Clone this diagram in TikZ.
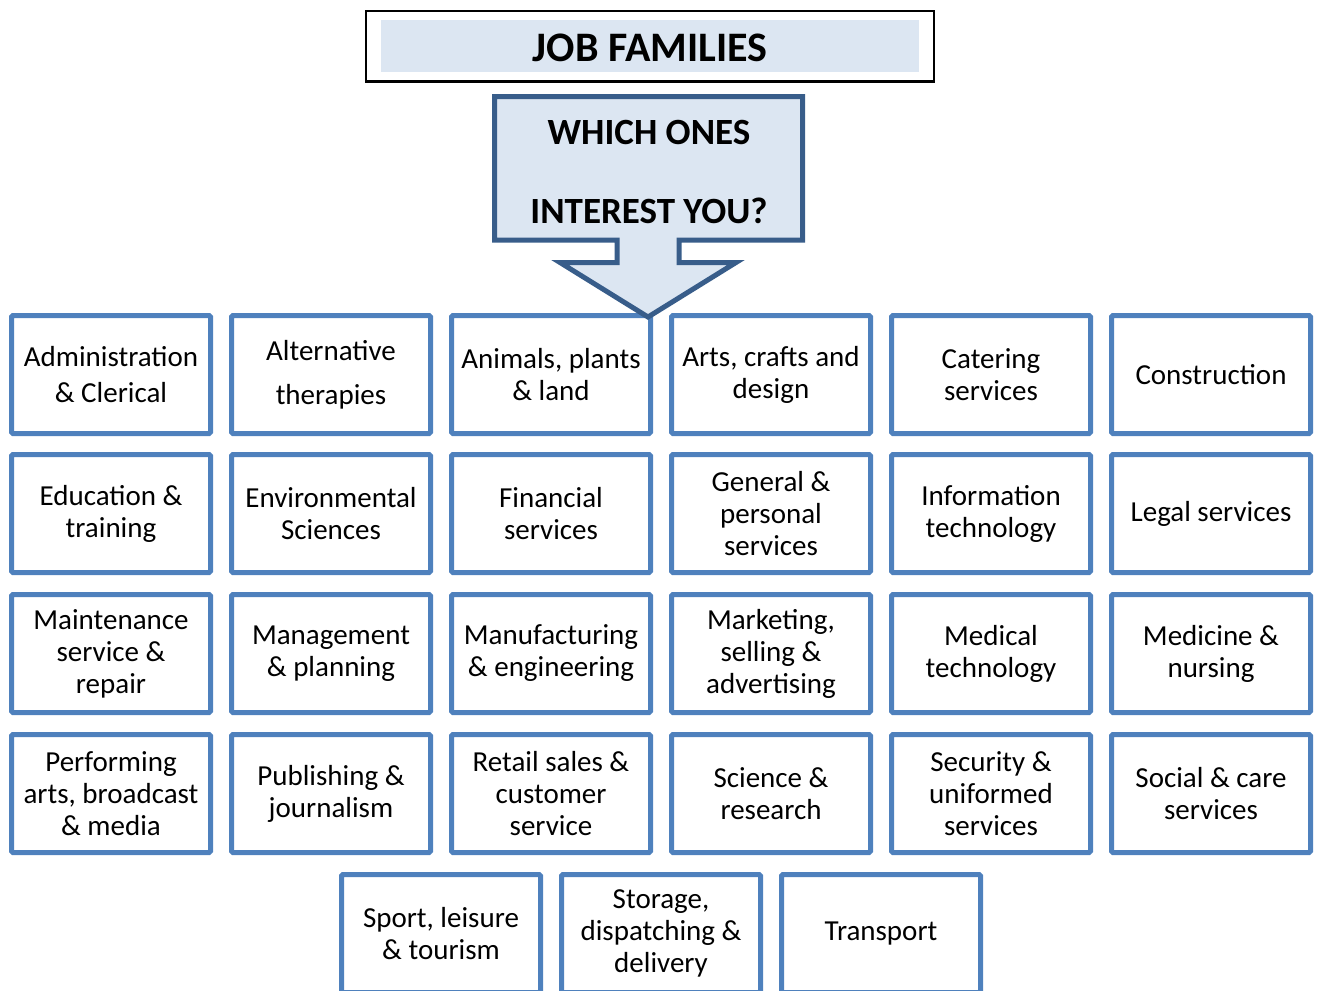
\documentclass[tikz,border=0pt]{standalone}
\usepackage{fontspec}
\setmainfont{Carlito}
\usepackage{tikz}
\definecolor{boxblue}{HTML}{4F81BD}
\definecolor{darkblue}{HTML}{385D8A}
\definecolor{paleblue}{HTML}{DCE6F2}

\begin{document}
\begin{tikzpicture}[x=1pt, y=-1pt,
	job/.style={draw=boxblue, line width=5pt, rounded corners=1.5pt, minimum width=199pt, minimum height=118pt, align=center, inner sep=0pt, font=\fontsize{29}{32}\selectfont},
	big/.style={font=\fontsize{#1}{79}\selectfont\bfseries, align=center}]
	%\draw[help lines] (0,0) grid[step=100] (1319,990);
	\useasboundingbox (0,0) rectangle (1319,990);
	% title
	\draw[line width=2.5pt] (366,11) rectangle (934,81.5);
	\fill[paleblue] (381,20) rectangle (919,72);
	\node[big=42] (title) at (650,48) {JOB FAMILIES};
	% row 1
	\node[job] (admin) at (111,374.5) {Administration\\[4pt]\& Clerical};
	\node[job] (alt) at (331,374.5) {Alternative\\[12pt]therapies};
	\node[job] (animals) at (551,374.5) {Animals, plants\\\& land};
	\node[job] (arts) at (771,374.5) {Arts, crafts and\\design};
	\node[job] (catering) at (991,374.5) {Catering\\services};
	\node[job] (construction) at (1211,374.5) {Construction};
	% row 2
	\node[job] (education) at (111,513.5) {Education \&\\training};
	\node[job] (environment) at (331,513.5) {Environmental\\Sciences};
	\node[job] (financial) at (551,513.5) {Financial\\services};
	\node[job] (general) at (771,513.5) {General \&\\personal\\services};
	\node[job] (it) at (991,513.5) {Information\\technology};
	\node[job] (legal) at (1211,513.5) {Legal services};
	% row 3
	\node[job] (maintenance) at (111,653.5) {Maintenance\\service \&\\repair};
	\node[job] (management) at (331,653.5) {Management\\\& planning};
	\node[job] (manufacturing) at (551,653.5) {Manufacturing\\\& engineering};
	\node[job] (marketing) at (771,653.5) {Marketing,\\selling \&\\advertising};
	\node[job] (medtech) at (991,653.5) {Medical\\technology};
	\node[job] (medicine) at (1211,653.5) {Medicine \&\\nursing};
	% row 4
	\node[job] (performing) at (111,793.5) {Performing\\arts, broadcast\\\& media};
	\node[job] (publishing) at (331,793.5) {Publishing \&\\journalism};
	\node[job] (retail) at (551,793.5) {Retail sales \&\\customer\\service};
	\node[job] (science) at (771,793.5) {Science \&\\research};
	\node[job] (security) at (991,793.5) {Security \&\\uniformed\\services};
	\node[job] (social) at (1211,793.5) {Social \& care\\services};
	% row 5
	\node[job] (sport) at (441,933.5) {Sport, leisure\\\& tourism};
	\node[job] (storage) at (661,933.5) {Storage,\\dispatching \&\\delivery};
	\node[job] (transport) at (881,933.5) {Transport};
	% arrow
	\draw[darkblue, fill=paleblue, line width=5pt, line join=miter]
		(494.5,96.5) -- (802.5,96.5) -- (802.5,240) -- (679,240) -- (679,262.5)
		-- (736,262.5) -- (648,317) -- (560,262.5) -- (617,262.5) -- (617,240)
		-- (494.5,240) -- cycle;
	\node[big=37] (ask) at (649,172) {WHICH ONES\\INTEREST YOU?};
\end{tikzpicture}
\end{document}
